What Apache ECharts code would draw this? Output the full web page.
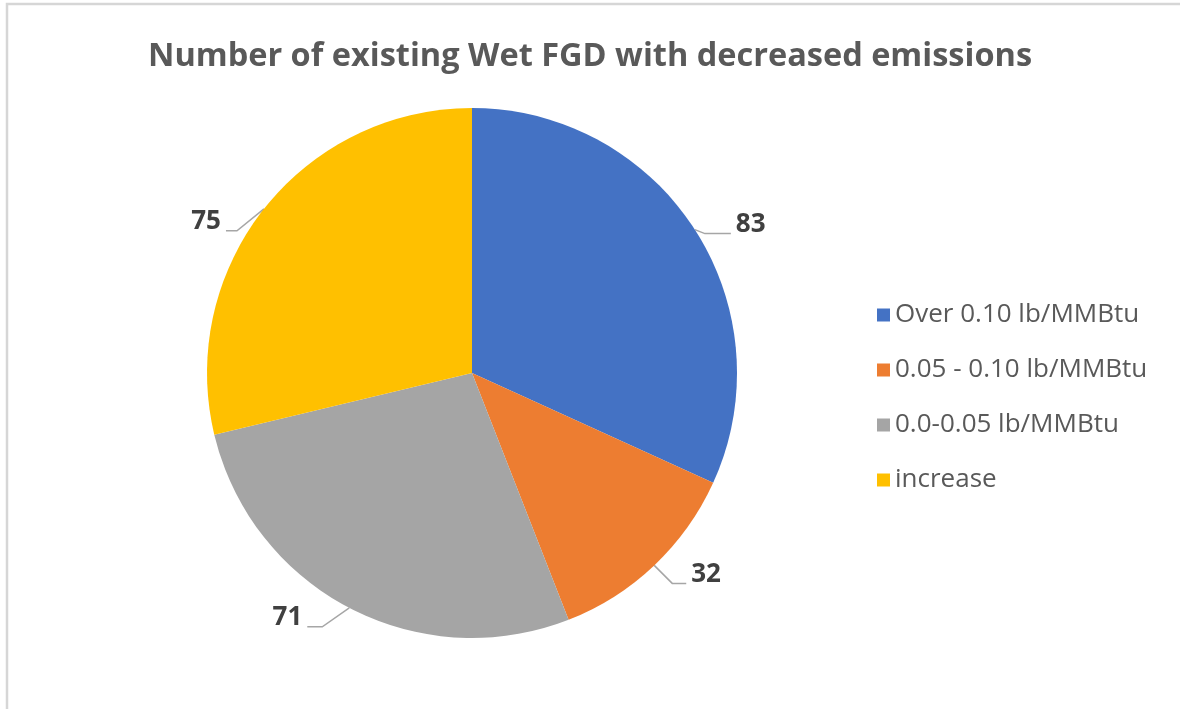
<!DOCTYPE html>
<html>
<head>
<meta charset="utf-8">
<title>Number of existing Wet FGD with decreased emissions</title>
<script src="https://cdn.jsdelivr.net/npm/echarts@6/dist/echarts.min.js"></script>
<style>
  html, body { margin: 0; padding: 0; background: #ffffff; }
  #chart { width: 1180px; height: 709px; }
</style>
</head>
<body>
<div id="chart"></div>
<script>
// Emission categories and the number of units in each
const categories = ['Over 0.10 lb/MMBtu', '0.05 - 0.10 lb/MMBtu', '0.0-0.05 lb/MMBtu', 'increase'];
const counts = [83, 32, 71, 75];
const sliceColors = ['#4472C4', '#ED7D31', '#A5A5A5', '#FFC000'];

// Leader line shape per slice: [bend dx, bend dy, tail dx] from the slice edge
const leaderShape = [[10, 4, 26], [18, 18, 14], [-27, 19, -15], [-27, 22, -11]];

const chart = echarts.init(document.getElementById('chart'), null, { renderer: 'canvas' });

const option = {
  backgroundColor: '#ffffff',
  animation: false,
  title: {
    text: 'Number of existing Wet FGD with decreased emissions',
    left: 'center',
    top: 35,
    textStyle: {
      fontFamily: 'Open Sans',
      fontWeight: 'bold',
      fontSize: 32.5,
      color: '#595959'
    }
  },
  graphic: [{
    type: 'rect',
    shape: { x: 7, y: 4, width: 1190, height: 720 },
    style: { fill: 'none', stroke: '#d6d6d6', lineWidth: 2.5 },
    silent: true
  }],
  legend: {
    orient: 'vertical',
    left: 872,
    top: 297,
    itemWidth: 13,
    itemHeight: 13,
    itemGap: 29,
    icon: 'rect',
    data: categories,
    textStyle: {
      fontFamily: 'Open Sans',
      fontSize: 26,
      color: '#595959'
    }
  },
  series: [{
    type: 'pie',
    center: [472, 373],
    radius: 265,
    startAngle: 90,
    clockwise: true,
    avoidLabelOverlap: false,
    itemStyle: { borderWidth: 0 },
    emphasis: { disabled: true },
    label: {
      show: true,
      position: 'outside',
      formatter: '{c}',
      fontFamily: 'Open Sans',
      fontWeight: 'bold',
      fontSize: 26,
      color: '#404040'
    },
    labelLine: {
      show: true,
      length: 10,
      length2: 20,
      lineStyle: { color: '#A6A6A6', width: 1.5 }
    },
    labelLayout: function (params) {
      const p0 = params.labelLinePoints[0];
      const s = leaderShape[params.dataIndex];
      const bend = [p0[0] + s[0], p0[1] + s[1]];
      const end = [bend[0] + s[2], bend[1]];
      const toRight = s[2] > 0;
      return {
        x: end[0] + (toRight ? 5 : -5),
        y: end[1] + 4,
        align: toRight ? 'left' : 'right',
        verticalAlign: 'bottom',
        labelLinePoints: [p0, bend, end]
      };
    },
    data: categories.map(function (name, i) {
      return { name: name, value: counts[i], itemStyle: { color: sliceColors[i] } };
    })
  }]
};

chart.setOption(option);
</script>
</body>
</html>
